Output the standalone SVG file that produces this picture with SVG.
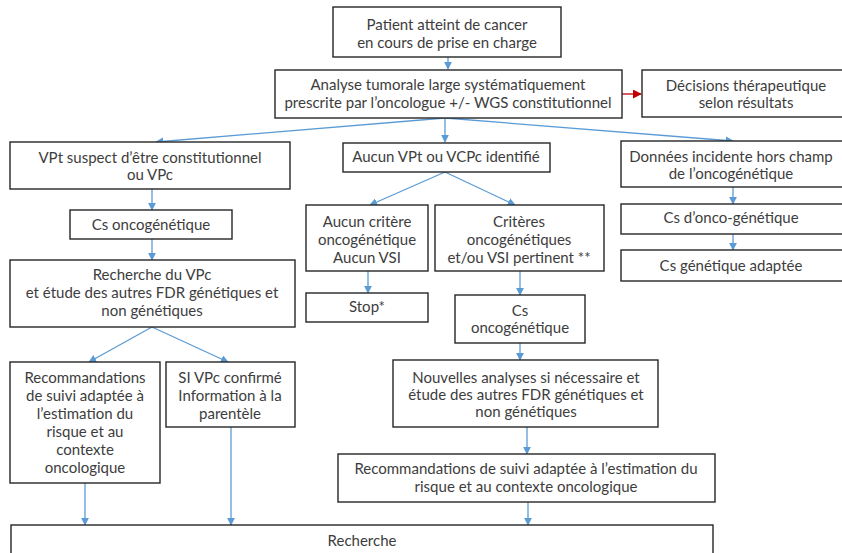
<svg xmlns="http://www.w3.org/2000/svg" width="842" height="553" viewBox="0 0 842 553">
  <style>
    .box { fill: #ffffff; stroke: #262626; stroke-width: 1.4; }
    .lbl { font-family: Lato, "Open Sans", "Liberation Sans", sans-serif; font-size: 15px; fill: #3d3d3d; text-anchor: middle; }
    .conn { fill: none; stroke: #5b9bd5; stroke-width: 1.3; }
    .conn-red { fill: none; stroke: #c00000; stroke-width: 1.3; }
  </style>
  <defs>
    <marker id="arrowBlue" viewBox="0 0 10 10" refX="9" refY="5" markerWidth="8" markerHeight="8" markerUnits="userSpaceOnUse" orient="auto">
      <path d="M0,0 L10,5 L0,10 Z" fill="#5b9bd5"/>
    </marker>
    <marker id="arrowRed" viewBox="0 0 10 10" refX="9" refY="5" markerWidth="9" markerHeight="9" markerUnits="userSpaceOnUse" orient="auto">
      <path d="M0,0 L10,5 L0,10 Z" fill="#c00000"/>
    </marker>
  </defs>
  <rect width="842" height="553" fill="#ffffff"/>

  <g id="connectors">
    <line class="conn" x1="448" y1="57" x2="448" y2="69" marker-end="url(#arrowBlue)"/>
    <line class="conn-red" x1="622" y1="94" x2="641" y2="94" marker-end="url(#arrowRed)"/>
    <line class="conn" x1="445" y1="118" x2="156" y2="142" marker-end="url(#arrowBlue)"/>
    <line class="conn" x1="445" y1="118" x2="445" y2="142" marker-end="url(#arrowBlue)"/>
    <line class="conn" x1="445" y1="118" x2="733" y2="141" marker-end="url(#arrowBlue)"/>
    <line class="conn" x1="152" y1="189" x2="152" y2="210" marker-end="url(#arrowBlue)"/>
    <line class="conn" x1="152" y1="239" x2="152" y2="260" marker-end="url(#arrowBlue)"/>
    <line class="conn" x1="152" y1="327" x2="89" y2="362" marker-end="url(#arrowBlue)"/>
    <line class="conn" x1="152" y1="327" x2="228" y2="362" marker-end="url(#arrowBlue)"/>
    <line class="conn" x1="85" y1="483" x2="85" y2="525" marker-end="url(#arrowBlue)"/>
    <line class="conn" x1="231" y1="427" x2="231" y2="525" marker-end="url(#arrowBlue)"/>
    <line class="conn" x1="445" y1="172" x2="370" y2="205" marker-end="url(#arrowBlue)"/>
    <line class="conn" x1="445" y1="172" x2="515" y2="205" marker-end="url(#arrowBlue)"/>
    <line class="conn" x1="368" y1="271" x2="368" y2="293" marker-end="url(#arrowBlue)"/>
    <line class="conn" x1="520" y1="271" x2="520" y2="295" marker-end="url(#arrowBlue)"/>
    <line class="conn" x1="520" y1="343" x2="520" y2="360" marker-end="url(#arrowBlue)"/>
    <line class="conn" x1="527" y1="427" x2="527" y2="454" marker-end="url(#arrowBlue)"/>
    <line class="conn" x1="528" y1="502" x2="528" y2="525" marker-end="url(#arrowBlue)"/>
    <line class="conn" x1="733" y1="187" x2="733" y2="204" marker-end="url(#arrowBlue)"/>
    <line class="conn" x1="733" y1="234" x2="733" y2="250" marker-end="url(#arrowBlue)"/>
  </g>

  <g id="patient">
    <rect class="box" x="333" y="7" width="228" height="50"/>
    <text class="lbl" x="447" y="30">Patient atteint de cancer</text>
    <text class="lbl" x="447" y="48">en cours de prise en charge</text>
  </g>

  <g id="analyse">
    <rect class="box" x="275" y="70" width="347" height="48"/>
    <text class="lbl" x="448" y="90">Analyse tumorale large systématiquement</text>
    <text class="lbl" x="448" y="108">prescrite par l’oncologue +/- WGS constitutionnel</text>
  </g>

  <g id="decisions">
    <rect class="box" x="642" y="70" width="210" height="47"/>
    <text class="lbl" x="746" y="91">Décisions thérapeutique</text>
    <text class="lbl" x="746" y="108">selon résultats</text>
  </g>

  <g id="vpt-suspect">
    <rect class="box" x="10" y="142" width="280" height="47"/>
    <text class="lbl" x="150" y="163">VPt suspect d’être constitutionnel</text>
    <text class="lbl" x="150" y="180">ou VPc</text>
  </g>

  <g id="cs-onco-left">
    <rect class="box" x="70" y="210" width="162" height="29"/>
    <text class="lbl" x="151" y="230">Cs oncogénétique</text>
  </g>

  <g id="recherche-vpc">
    <rect class="box" x="10" y="260" width="285" height="67"/>
    <text class="lbl" x="152" y="280">Recherche du VPc</text>
    <text class="lbl" x="152" y="298">et étude des autres FDR génétiques et</text>
    <text class="lbl" x="152" y="316">non génétiques</text>
  </g>

  <g id="reco-left">
    <rect class="box" x="10" y="362" width="150" height="121"/>
    <text class="lbl" x="85" y="383">Recommandations</text>
    <text class="lbl" x="85" y="401">de suivi adaptée à</text>
    <text class="lbl" x="85" y="419">l’estimation du</text>
    <text class="lbl" x="85" y="437">risque et au</text>
    <text class="lbl" x="85" y="455">contexte</text>
    <text class="lbl" x="85" y="473">oncologique</text>
  </g>

  <g id="si-vpc">
    <rect class="box" x="166" y="362" width="129" height="65"/>
    <text class="lbl" x="230" y="383">SI VPc confirmé</text>
    <text class="lbl" x="230" y="401">Information à la</text>
    <text class="lbl" x="230" y="419">parentèle</text>
  </g>

  <g id="aucun-vpt">
    <rect class="box" x="343" y="143" width="207" height="29"/>
    <text class="lbl" x="446" y="162">Aucun VPt ou VCPc identifié</text>
  </g>

  <g id="aucun-critere">
    <rect class="box" x="306" y="205" width="122" height="66"/>
    <text class="lbl" x="367" y="227">Aucun critère</text>
    <text class="lbl" x="367" y="245">oncogénétique</text>
    <text class="lbl" x="367" y="263">Aucun VSI</text>
  </g>

  <g id="criteres">
    <rect class="box" x="435" y="205" width="169" height="66"/>
    <text class="lbl" x="519" y="227">Critères</text>
    <text class="lbl" x="519" y="245">oncogénétiques</text>
    <text class="lbl" x="519" y="263">et/ou VSI pertinent  **</text>
  </g>

  <g id="stop">
    <rect class="box" x="306" y="293" width="122" height="29"/>
    <text class="lbl" x="367" y="312">Stop*</text>
  </g>

  <g id="cs-onco-mid">
    <rect class="box" x="455" y="295" width="130" height="48"/>
    <text class="lbl" x="520" y="316">Cs</text>
    <text class="lbl" x="520" y="333">oncogénétique</text>
  </g>

  <g id="nouvelles-analyses">
    <rect class="box" x="393" y="360" width="265" height="67"/>
    <text class="lbl" x="526" y="383">Nouvelles analyses si nécessaire et</text>
    <text class="lbl" x="526" y="400">étude des autres FDR génétiques et</text>
    <text class="lbl" x="526" y="417">non génétiques</text>
  </g>

  <g id="reco-right">
    <rect class="box" x="338" y="454" width="377" height="48"/>
    <text class="lbl" x="526" y="474">Recommandations de suivi adaptée à l’estimation du</text>
    <text class="lbl" x="526" y="492">risque et au contexte oncologique</text>
  </g>

  <g id="donnees-incidentes">
    <rect class="box" x="621" y="141" width="231" height="46"/>
    <text class="lbl" x="731" y="162">Données incidente hors champ</text>
    <text class="lbl" x="731" y="179">de l’oncogénétique</text>
  </g>

  <g id="cs-onco-right">
    <rect class="box" x="621" y="204" width="231" height="30"/>
    <text class="lbl" x="731" y="223">Cs d’onco-génétique</text>
  </g>

  <g id="cs-genetique">
    <rect class="box" x="621" y="250" width="231" height="31"/>
    <text class="lbl" x="731" y="271">Cs génétique  adaptée</text>
  </g>

  <g id="recherche">
    <rect class="box" x="11" y="525" width="702" height="40"/>
    <text class="lbl" x="362" y="546">Recherche</text>
  </g>
</svg>
